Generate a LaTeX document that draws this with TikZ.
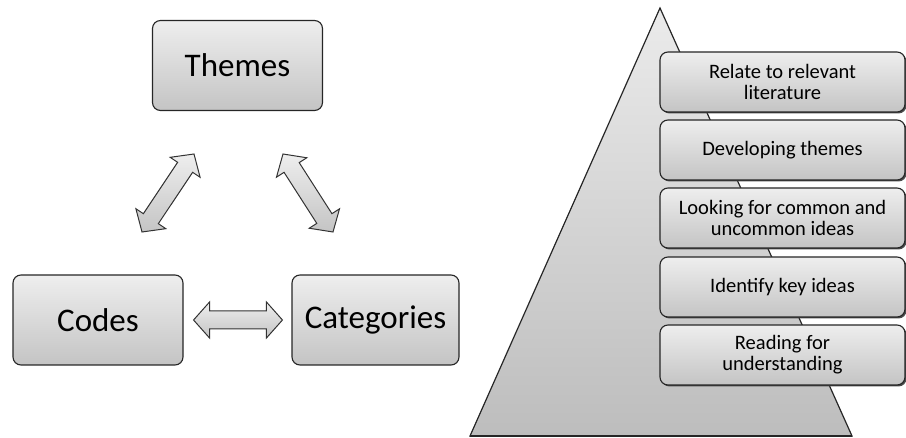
\documentclass[tikz,border=0pt]{standalone}
\usepackage{fontspec}
\setmainfont{Carlito}
\usetikzlibrary{calc,shadows}
\definecolor{boxtop}{HTML}{EEEEEE}
\definecolor{boxbot}{HTML}{C4C4C4}
\definecolor{pyrtop}{HTML}{EBEBEB}
\definecolor{pyrbot}{HTML}{BDBDBD}
\tikzset{
  bigbox/.style={draw=black!85, line width=1.1pt, rounded corners=8pt,
    top color=boxtop, bottom color=boxbot, minimum width=170pt,
    minimum height=90pt, font=\fontsize{33}{38}\selectfont, inner sep=0pt},
  stepbox/.style={draw=black!85, line width=1.1pt, rounded corners=8pt,
    top color=boxtop, bottom color=boxbot, minimum width=245pt,
    minimum height=60pt, font=\fontsize{20.5}{21}\selectfont, align=center,
    inner sep=0pt,
    drop shadow={shadow xshift=1.5pt, shadow yshift=-1.5pt, fill=black!70, opacity=1}},
  blockarrow/.style={draw=black!80, line width=1pt, top color=boxtop,
    bottom color=boxbot, line join=miter},
  pyramid/.style={draw=black!85, line width=1.2pt, top color=pyrtop, bottom color=pyrbot}
}
\newcommand\dblblockarrow[2]{%
  \coordinate (ha) at ($(#1)!16pt!(#2)$);
  \coordinate (hb) at ($(#2)!16pt!(#1)$);
  \draw[blockarrow] (#1) -- ($(ha)!18pt!90:(#2)$) -- ($(ha)!9pt!90:(#2)$)
    -- ($(hb)!9pt!-90:(#1)$) -- ($(hb)!18pt!-90:(#1)$) -- (#2)
    -- ($(hb)!18pt!90:(#1)$) -- ($(hb)!9pt!90:(#1)$)
    -- ($(ha)!9pt!-90:(#2)$) -- ($(ha)!18pt!-90:(#2)$) -- cycle;
}
\begin{document}
\begin{tikzpicture}[x=1pt,y=1pt]
\useasboundingbox (0,0) rectangle (906,-438);
% left cycle
\node[bigbox] (themes) at (237.5,-65.5) {Themes};
\node[bigbox] (codes) at (98,-320) {Codes};
\node[bigbox, minimum width=167pt] (categories) at (375.5,-320) {Categories};
\coordinate (h1) at ($(codes.east)+(10,0)$);
\coordinate (h2) at ($(categories.west)+(-9,0)$);
\coordinate (l1) at (142,-232);
\coordinate (l2) at (194,-154);
\coordinate (r1) at (283,-154);
\coordinate (r2) at (333,-232);
\dblblockarrow{h1}{h2}
\dblblockarrow{l1}{l2}
\dblblockarrow{r1}{r2}
% pyramid
\coordinate (pl) at (470,-436);
\coordinate (pt) at (660,-8);
\coordinate (pr) at (852,-436);
\draw[pyramid] (pl) -- (pt) -- (pr) -- cycle;
\draw[line width=2pt, black!85] (pl) -- (pr);
\node[stepbox] (s1) at (782.5,-82) {Relate to relevant\\literature};
\node[stepbox] (s2) at (782.5,-150) {Developing themes};
\node[stepbox] (s3) at (782.5,-218) {Looking for common and\\uncommon ideas};
\node[stepbox] (s4) at (782.5,-287) {Identify key ideas};
\node[stepbox] (s5) at (782.5,-355) {Reading for\\understanding};
\end{tikzpicture}
\end{document}
